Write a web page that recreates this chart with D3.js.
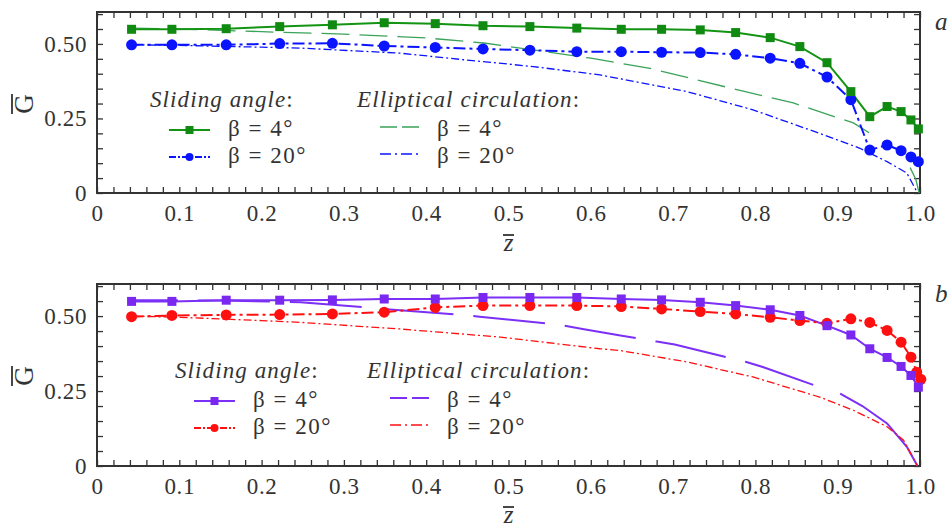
<!DOCTYPE html>
<html>
<head>
<meta charset="utf-8">
<script src="https://cdn.jsdelivr.net/npm/d3@7"></script>
<style>
    body { margin: 0; background: #fff; }
    svg, svg text { font-family: "Liberation Serif", "Times New Roman", Times, Tinos, "Noto Serif", "DejaVu Serif", serif !important; }
</style>
</head>
<body>
<svg id="chart" width="951" height="528"></svg>
<script>
"use strict";

// z positions of the computed (sliding angle) points
const Z_SLIDING = [0.042, 0.091, 0.157, 0.222, 0.286, 0.349, 0.411, 0.469, 0.526, 0.583, 0.637, 0.686,
    0.733, 0.776, 0.818, 0.854, 0.887, 0.916, 0.939, 0.960, 0.977, 0.989, 0.998];
const Z_SLIDING_B20 = [0.042, 0.091, 0.157, 0.222, 0.286, 0.349, 0.411, 0.469, 0.526, 0.583, 0.637, 0.686,
    0.733, 0.776, 0.818, 0.854, 0.887, 0.916, 0.939, 0.960, 0.977, 0.989, 0.996, 1.001];

// panel a
const A_SLIDING_4 = [0.549, 0.549, 0.551, 0.558, 0.564, 0.571, 0.568, 0.561, 0.558, 0.553, 0.549, 0.549,
    0.547, 0.538, 0.521, 0.491, 0.437, 0.340, 0.256, 0.290, 0.273, 0.245, 0.215];
const A_SLIDING_20 = [0.497, 0.497, 0.497, 0.501, 0.502, 0.493, 0.488, 0.483, 0.479, 0.474, 0.474, 0.472,
    0.471, 0.465, 0.452, 0.435, 0.389, 0.313, 0.144, 0.161, 0.142, 0.121, 0.105];
const A_ELLIP_4_Z = [0.042, 0.1, 0.2, 0.3, 0.4, 0.47, 0.53, 0.6, 0.672, 0.765, 0.846, 0.919, 0.947, 0.97, 0.988, 0.995, 0.999];
const A_ELLIP_4 = [0.553, 0.550, 0.541, 0.533, 0.520, 0.503, 0.480, 0.452, 0.418, 0.355, 0.302, 0.235, 0.187, 0.140, 0.085, 0.045, 0];
const A_ELLIP_20_Z = [0.042, 0.1, 0.15, 0.2, 0.247, 0.368, 0.449, 0.53, 0.611, 0.636, 0.717, 0.797, 0.878, 0.927, 0.96, 0.984, 0.997];
const A_ELLIP_20 = [0.497, 0.495, 0.492, 0.489, 0.486, 0.469, 0.446, 0.424, 0.396, 0.383, 0.340, 0.279, 0.200, 0.150, 0.105, 0.067, 0];

// panel b
const B_SLIDING_4 = [0.549, 0.549, 0.553, 0.553, 0.554, 0.557, 0.557, 0.562, 0.562, 0.562, 0.557, 0.554,
    0.546, 0.535, 0.521, 0.502, 0.468, 0.437, 0.391, 0.362, 0.332, 0.302, 0.263];
const B_SLIDING_20 = [0.498, 0.502, 0.504, 0.505, 0.507, 0.513, 0.529, 0.535, 0.535, 0.535, 0.532, 0.524,
    0.515, 0.507, 0.496, 0.485, 0.476, 0.491, 0.479, 0.452, 0.413, 0.363, 0.313, 0.289];
const B_ELLIP_4_Z = [0.042, 0.15, 0.247, 0.328, 0.348, 0.429, 0.465, 0.559, 0.59, 0.636, 0.68, 0.702, 0.789,
    0.809, 0.878, 0.903, 0.93, 0.96, 0.984, 0.997];
const B_ELLIP_4 = [0.553, 0.552, 0.546, 0.529, 0.524, 0.507, 0.498, 0.472, 0.457, 0.435, 0.415, 0.405, 0.347,
    0.330, 0.263, 0.241, 0.200, 0.142, 0.064, 0];
const B_ELLIP_20_Z = [0.042, 0.1, 0.2, 0.247, 0.368, 0.49, 0.611, 0.636, 0.717, 0.797, 0.878, 0.919, 0.96, 0.98, 0.997];
const B_ELLIP_20 = [0.500, 0.496, 0.485, 0.479, 0.457, 0.430, 0.391, 0.385, 0.347, 0.297, 0.230, 0.186, 0.131, 0.086, 0];

const X_TICK_LABELS = ["0", "0.1", "0.2", "0.3", "0.4", "0.5", "0.6", "0.7", "0.8", "0.9", "1.0"];
const Y_TICK_LABELS = ["0", "0.25", "0.50"];
const LEGEND_HEADERS = ["Sliding angle", "Elliptical circulation"];
const LEGEND_ITEMS = ["β = 4°", "β = 20°"];

const FONT = '"Liberation Serif", "Times New Roman", Times, Tinos, "DejaVu Serif", serif';
const INK = "#333";

const svg = d3.select("#chart");

function zip(xs, ys) {
    return xs.map((x, i) => ({z: x, g: ys[i]}));
}

function drawPanel(opts) {
    const x = d3.scaleLinear().domain([0, 1]).range([97, 920]);
    const y = d3.scaleLinear().domain([0, 0.607]).range([opts.bottom, opts.top]);
    const g = svg.append("g");

    const minorX = d3.range(0, 51).map(i => i * 0.02);
    const minorY = d3.range(0, 13).map(i => i * 0.05);

    const tickStyle = sel => {
        sel.select(".domain").remove();
        sel.selectAll("line").attr("stroke", INK).attr("stroke-width", 1.3);
    };

    g.append("g").attr("transform", `translate(0,${opts.bottom})`)
        .call(d3.axisBottom(x).tickValues(minorX).tickSize(-6).tickFormat(""))
        .call(tickStyle);
    g.append("g").attr("transform", `translate(0,${opts.top})`)
        .call(d3.axisTop(x).tickValues(minorX).tickSize(-6).tickFormat(""))
        .call(tickStyle);
    g.append("g").attr("transform", "translate(97,0)")
        .call(d3.axisLeft(y).tickValues(minorY).tickSize(-6).tickFormat(""))
        .call(tickStyle);
    g.append("g").attr("transform", "translate(920,0)")
        .call(d3.axisRight(y).tickValues(minorY).tickSize(-6).tickFormat(""))
        .call(tickStyle);

    // tick labels
    const xLab = g.append("g").attr("transform", `translate(0,${opts.bottom})`)
        .call(d3.axisBottom(x).tickValues(d3.range(0, 11).map(i => i / 10)).tickSize(0).tickPadding(12)
            .tickFormat((d, i) => X_TICK_LABELS[i]));
    xLab.select(".domain").remove();
    const yLab = g.append("g").attr("transform", "translate(97,0)")
        .call(d3.axisLeft(y).tickValues([0, 0.25, 0.5]).tickSize(0).tickPadding(10)
            .tickFormat((d, i) => Y_TICK_LABELS[i]));
    yLab.select(".domain").remove();
    g.selectAll(".tick text")
        .attr("font-family", FONT)
        .attr("font-size", 23)
        .attr("letter-spacing", 0.6)
        .attr("fill", INK);

    g.append("rect")
        .attr("x", 97).attr("y", opts.top)
        .attr("width", 823).attr("height", opts.bottom - opts.top)
        .attr("fill", "none").attr("stroke", INK).attr("stroke-width", 2);

    const line = d3.line().x(d => x(d.z)).y(d => y(d.g));

    // elliptical circulation curves: dashed body and solid tail
    const e4 = zip(opts.ellip4Z, opts.ellip4);
    g.append("path").datum(e4.filter(d => d.z <= opts.ellip4DashEnd))
        .attr("d", line).attr("fill", "none")
        .attr("stroke", opts.ellip4Color).attr("stroke-width", opts.ellip4Width)
        .attr("stroke-dasharray", opts.ellip4Dash)
        .attr("stroke-dashoffset", opts.ellip4Offset);
    g.append("path").datum(e4.filter(d => d.z >= opts.ellip4TailStart))
        .attr("d", line).attr("fill", "none")
        .attr("stroke", opts.ellip4Color).attr("stroke-width", opts.ellip4Width);
    g.append("path").datum(zip(opts.ellip20Z, opts.ellip20))
        .attr("d", line).attr("fill", "none")
        .attr("stroke", opts.c20).attr("stroke-width", 1.3)
        .attr("stroke-dasharray", "8,3,2,3");

    // sliding angle curves
    g.append("path").datum(zip(opts.sliding4Z, opts.sliding4))
        .attr("d", line).attr("fill", "none")
        .attr("stroke", opts.c4).attr("stroke-width", 2);
    g.append("path").datum(zip(opts.sliding20Z, opts.sliding20))
        .attr("d", line).attr("fill", "none")
        .attr("stroke", opts.c20).attr("stroke-width", 2)
        .attr("stroke-dasharray", "12,4,3,4");

    g.append("g").selectAll("circle")
        .data(zip(opts.sliding20Z, opts.sliding20))
        .join("circle")
        .attr("cx", d => x(d.z)).attr("cy", d => y(d.g))
        .attr("r", 5.5).attr("fill", opts.c20);
    g.append("g").selectAll("rect")
        .data(zip(opts.sliding4Z, opts.sliding4))
        .join("rect")
        .attr("x", d => x(d.z) - 4.5).attr("y", d => y(d.g) - 4.5)
        .attr("width", 9).attr("height", 9).attr("fill", opts.c4Marker);

    // axis titles
    const gx = 24, gy = opts.gLabelY;
    g.append("text")
        .attr("transform", `translate(${gx + 9},${gy}) rotate(-90)`)
        .attr("text-anchor", "middle")
        .attr("font-family", FONT)
        .attr("font-size", 27).attr("fill", INK)
        .text("G");
    g.append("line")
        .attr("x1", 12).attr("x2", 12).attr("y1", gy - 10).attr("y2", gy + 10)
        .attr("stroke", INK).attr("stroke-width", 1.8);

    g.append("line")
        .attr("x1", 503).attr("x2", 514).attr("y1", opts.zBarY).attr("y2", opts.zBarY)
        .attr("stroke", INK).attr("stroke-width", 1.8);
    g.append("text")
        .attr("x", 508.5).attr("y", opts.zBarY + 16)
        .attr("text-anchor", "middle")
        .attr("font-family", FONT)
        .attr("font-size", 25).attr("font-style", "italic").attr("fill", INK)
        .text("z");

    g.append("text")
        .attr("x", 935).attr("y", opts.top + 18)
        .attr("font-family", FONT)
        .attr("font-size", 25).attr("font-style", "italic").attr("fill", INK)
        .text(opts.label);

    // legend
    const L = opts.legend;
    const txt = (tx, ty, s, italic, spacing) => g.append("text")
        .attr("x", tx).attr("y", ty)
        .attr("font-family", FONT)
        .attr("font-size", 23).attr("fill", INK)
        .attr("letter-spacing", spacing)
        .attr("font-style", italic ? "italic" : "normal")
        .text(s);

    const header = (tx, ty, name) => {
        const t = txt(tx, ty, "", true, 1.1);
        t.append("tspan").text(name);
        t.append("tspan").attr("font-style", "normal").text(":");
    };
    header(L.sx, L.hy, LEGEND_HEADERS[0]);
    header(L.ex, L.hy, LEGEND_HEADERS[1]);
    txt(L.sx + 78, L.hy + 29, LEGEND_ITEMS[0], false, 1.5);
    txt(L.sx + 78, L.hy + 56, LEGEND_ITEMS[1], false, 1.5);
    txt(L.ex + 80, L.hy + 29, LEGEND_ITEMS[0], false, 1.5);
    txt(L.ex + 80, L.hy + 56, LEGEND_ITEMS[1], false, 1.5);

    const s0 = L.sx + 19, s1 = L.sx + 60;
    const sm = (s0 + s1) / 2;
    g.append("line").attr("x1", s0).attr("x2", s1).attr("y1", L.hy + 23).attr("y2", L.hy + 23)
        .attr("stroke", opts.c4).attr("stroke-width", 2);
    g.append("rect").attr("x", sm - 4).attr("y", L.hy + 19).attr("width", 8).attr("height", 8)
        .attr("fill", opts.c4Marker);
    g.append("line").attr("x1", s0).attr("x2", s1).attr("y1", L.hy + 50).attr("y2", L.hy + 50)
        .attr("stroke", opts.c20).attr("stroke-width", 1.8).attr("stroke-dasharray", "7,2,2,2");
    g.append("circle").attr("cx", sm).attr("cy", L.hy + 50).attr("r", 4).attr("fill", opts.c20);

    const e0 = L.ex + 23, e1 = L.ex + 63;
    g.append("line").attr("x1", e0).attr("x2", e1).attr("y1", L.hy + 20).attr("y2", L.hy + 20)
        .attr("stroke", opts.ellip4Color).attr("stroke-width", opts.ellip4Width).attr("stroke-dasharray", "17,5");
    g.append("line").attr("x1", e0).attr("x2", e1).attr("y1", L.hy + 47).attr("y2", L.hy + 47)
        .attr("stroke", opts.c20).attr("stroke-width", 1.5).attr("stroke-dasharray", "11,4,2,4");
}

drawPanel({
    top: 12, bottom: 193, label: "a",
    sliding4Z: Z_SLIDING, sliding4: A_SLIDING_4,
    sliding20Z: Z_SLIDING, sliding20: A_SLIDING_20,
    ellip4Z: A_ELLIP_4_Z, ellip4: A_ELLIP_4,
    ellip20Z: A_ELLIP_20_Z, ellip20: A_ELLIP_20,
    c4: "#139413", c4Marker: "#118a11", c20: "#0a14ff",
    ellip4Color: "#3aa35a", ellip4Width: 1.3, ellip4Dash: "28,10", ellip4Offset: 0,
    ellip4DashEnd: 0.947, ellip4TailStart: 0.988,
    gLabelY: 104, zBarY: 235,
    legend: {sx: 150, ex: 357, hy: 107}
});

drawPanel({
    top: 284, bottom: 466, label: "b",
    sliding4Z: Z_SLIDING, sliding4: B_SLIDING_4,
    sliding20Z: Z_SLIDING_B20, sliding20: B_SLIDING_20,
    ellip4Z: B_ELLIP_4_Z, ellip4: B_ELLIP_4,
    ellip20Z: B_ELLIP_20_Z, ellip20: B_ELLIP_20,
    c4: "#7b2ff7", c4Marker: "#7a28f0", c20: "#ff1010",
    ellip4Color: "#7b2ff7", ellip4Width: 2, ellip4Dash: "72,20", ellip4Offset: 25.7,
    ellip4DashEnd: 0.878, ellip4TailStart: 0.903,
    gLabelY: 376, zBarY: 507,
    legend: {sx: 175, ex: 367, hy: 378}
});
</script>
</body>
</html>
